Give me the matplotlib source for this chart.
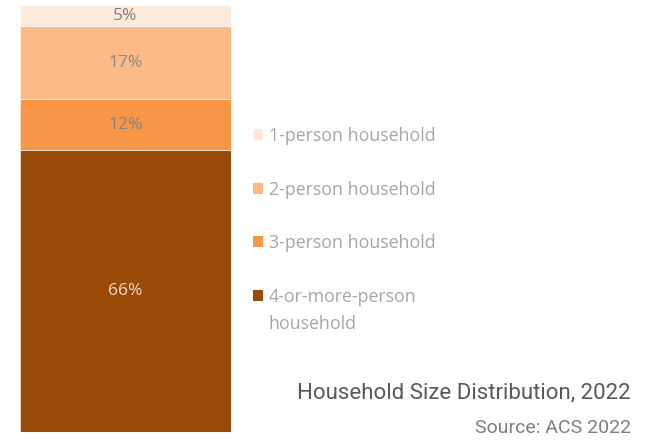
import matplotlib.pyplot as plt
from matplotlib.patches import Patch

plt.rcParams['font.family'] = ['Open Sans', 'DejaVu Sans']

categories = ["1-person household", "2-person household", "3-person household",
              "4-or-more-person household"]
shares = [5, 17, 12, 66]
colors = ["#FDEADA", "#FAB987", "#F79646", "#9A4A07"]
label_colors = ["#7F7F7F", "#8C8C8C", "#858585", "#EAD9C8"]

fig = plt.figure(figsize=(6.56, 4.4), dpi=100)
ax = fig.add_axes([20 / 656, 8 / 440, 211 / 656, 427 / 440])

# stack from the largest group at the bottom up to single-person at the top
bottom = 0
for val, col, lc in zip(shares[::-1], colors[::-1], label_colors[::-1]):
    ax.bar(0, val, bottom=bottom, width=1, color=col, edgecolor="white", linewidth=0.4)
    ax.text(0, bottom + val / 2, f"{val}%", ha="center", va="center",
            fontsize=12.5, color=lc)
    bottom += val

ax.set_xlim(-0.5, 0.5)
ax.set_ylim(0, sum(shares))
ax.axis("off")

# the last entry wraps; its handle stays on the first line, so the second
# line is added as a plain text underneath
legend_labels = [c.replace("-person household", "-person\nhousehold")
                 if c.startswith("4") else c for c in categories]
first_lines = [lab.split("\n")[0] for lab in legend_labels]

handles = [Patch(facecolor=c, edgecolor="none") for c in colors]
leg = fig.legend(handles, first_lines, loc="upper left",
                 bbox_to_anchor=(237 / 656, 1 - 111 / 440),
                 frameon=False, fontsize=12.8, labelcolor="#A6A6A6", handlelength=0.55,
                 handleheight=0.55, handletextpad=0.35, labelspacing=2.0)

fig.canvas.draw()
last = leg.get_texts()[-1].get_window_extent()
fig.text(last.x0 / fig.bbox.width, (last.y0 - 27) / fig.bbox.height,
         legend_labels[-1].split("\n")[1], ha="left", va="bottom",
         fontsize=12.8, color="#A6A6A6")

fig.text(631 / 656, 1 - 393 / 440, "Household Size Distribution, 2022", ha="right",
         va="center", fontsize=16, color="#595959", family=["Roboto", "DejaVu Sans"])
fig.text(631 / 656, 1 - 428 / 440, "Source: ACS 2022", ha="right", va="center",
         fontsize=14, color="#7F7F7F", family=["Roboto", "DejaVu Sans"])

fig.savefig("out.png", dpi=100)
